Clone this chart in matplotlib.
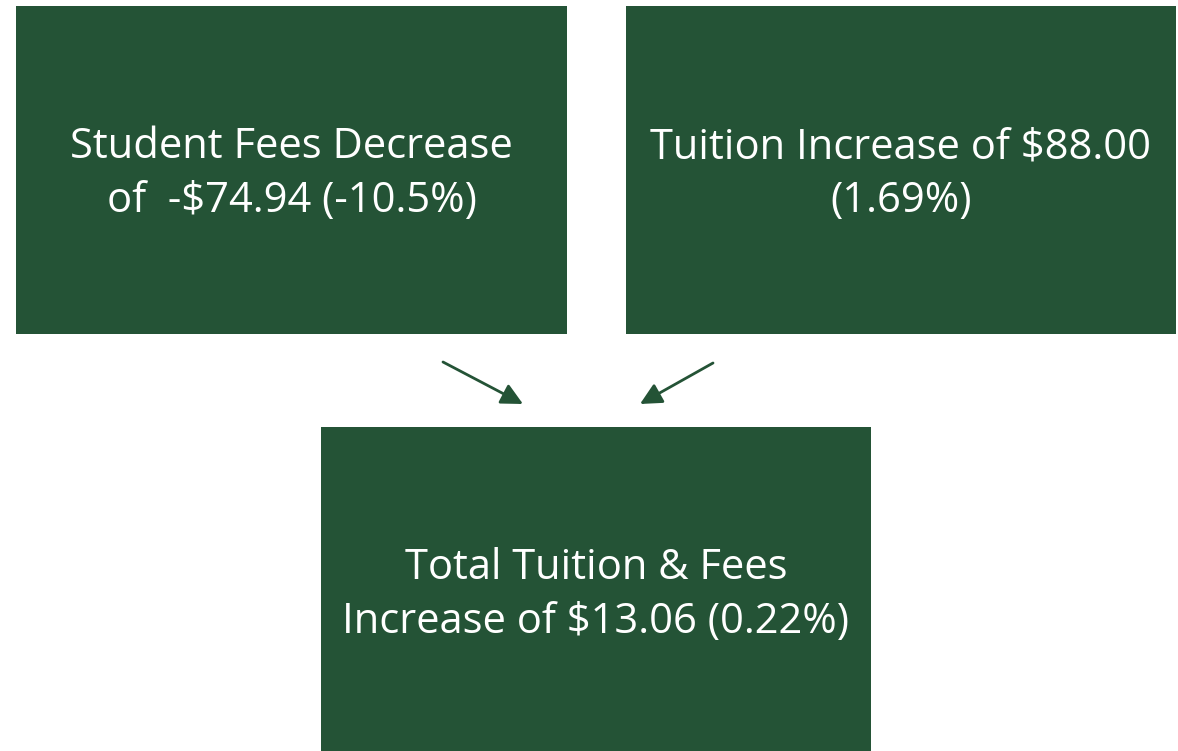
import matplotlib.pyplot as plt
from matplotlib.patches import Rectangle

# Box labels
labels = [
    "Student Fees Decrease\nof  -$74.94 (-10.5%)",
    "Tuition Increase of $88.00\n(1.69%)",
    "Total Tuition & Fees\nIncrease of $13.06 (0.22%)",
]

# Layout in pixel coordinates (x, y, width, height), y grows downward
boxes = [(16, 6, 551, 328), (626, 6, 550, 328), (321, 427, 550, 330)]
arrows = [((443, 362), (523, 404)), ((713, 363), (640, 404))]

green = '#245336'

fig = plt.figure(figsize=(11.78, 7.51), dpi=100)
ax = fig.add_axes([0, 0, 1, 1])
ax.set_xlim(0, 1178)
ax.set_ylim(751, 0)
ax.axis('off')

for (x, y, w, h), text in zip(boxes, labels):
    ax.add_patch(Rectangle((x, y), w, h, facecolor=green, edgecolor='none'))
    cy = min(y + h / 2, 591) + 4
    ax.text(x + w / 2, cy, text, ha='center', va='center', color='white',
            fontsize=30, family='Open Sans', linespacing=1.35)

for start, end in arrows:
    ax.annotate('', xy=end, xytext=start,
                arrowprops=dict(arrowstyle='-|>,head_length=1.3,head_width=0.65',
                                color=green, lw=2, shrinkA=0, shrinkB=0))

plt.savefig('out.png', dpi=100)
